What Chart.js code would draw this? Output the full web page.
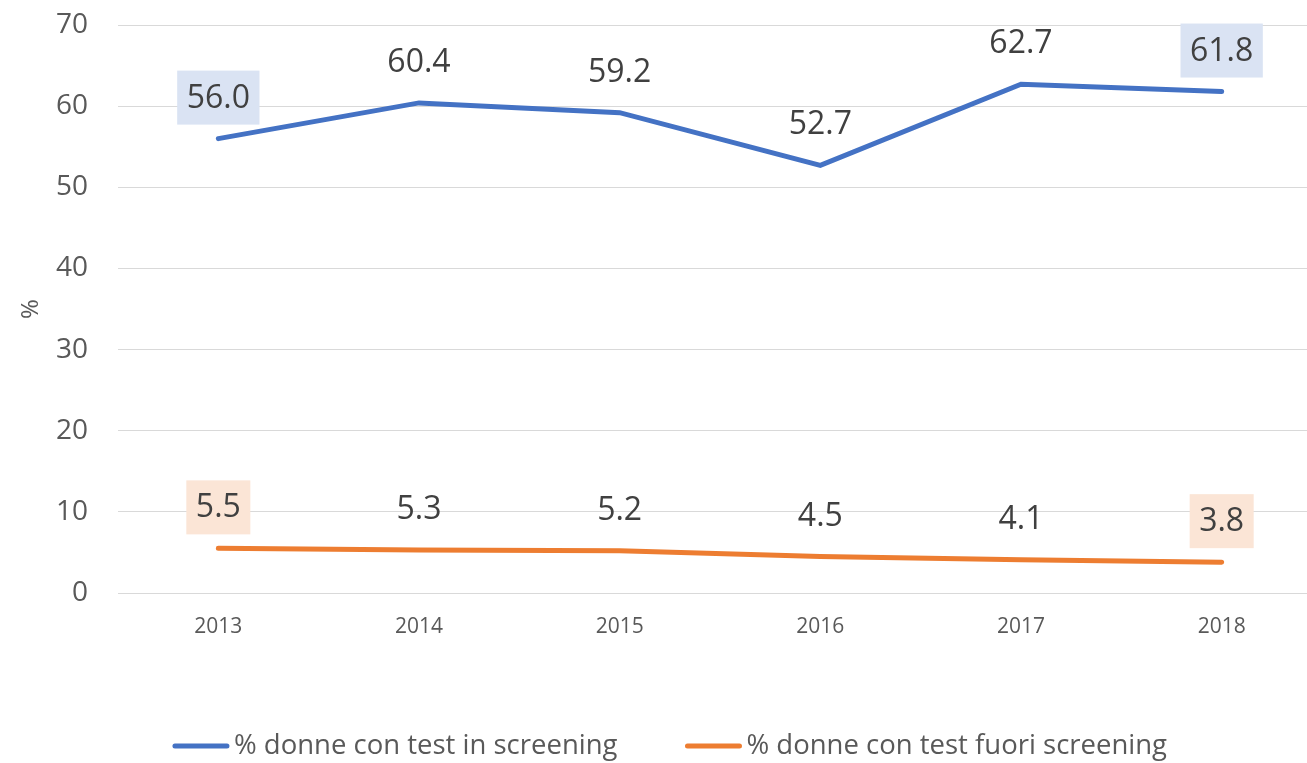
<!DOCTYPE html>
<html>
<head>
<meta charset="utf-8">
<script src="https://cdn.jsdelivr.net/npm/chart.js@4"></script>
<style>
  html, body { margin: 0; padding: 0; overflow: hidden; background: #fff; }
  #wrap { width: 1340px; height: 763px; }
</style>
</head>
<body>
<div id="wrap"><canvas id="myChart" width="1340" height="763"></canvas></div>
<script>
var years = ['2013', '2014', '2015', '2016', '2017', '2018'];
var inScreening = [56.0, 60.4, 59.2, 52.7, 62.7, 61.8];
var fuoriScreening = [5.5, 5.3, 5.2, 4.5, 4.1, 3.8];
var yTicks = [0, 10, 20, 30, 40, 50, 60, 70];

var textColor = '#595959';
var ctx = document.getElementById('myChart').getContext('2d');

// labels above each point, first and last one on a coloured box
var valueLabels = {
    id: 'valueLabels',
    afterDatasetsDraw: function(chart) {
        var c = chart.ctx;
        c.save();
        c.font = '32px "Open Sans"';
        c.textAlign = 'center';
        c.textBaseline = 'middle';
        chart.data.datasets.forEach(function(ds, i) {
            var meta = chart.getDatasetMeta(i);
            meta.data.forEach(function(pt, j) {
                var txt = ds.data[j].toFixed(1);
                var y = pt.y - 41;
                if (j === 0 || j === ds.data.length - 1) {
                    var w = c.measureText(txt).width + 19;
                    c.fillStyle = ds.boxColor;
                    c.fillRect(pt.x - w / 2, y - 27, w, 54);
                }
                c.fillStyle = '#404040';
                c.fillText(txt, pt.x, y + 1);
            });
        });
        c.restore();
    }
};

// legend at the bottom, line sample right next to the text
var bottomLegend = {
    id: 'bottomLegend',
    afterDraw: function(chart) {
        var c = chart.ctx;
        var lineW = 56, gap = 5, itemGap = 68, y = 746;
        c.save();
        c.font = '27.5px "Open Sans"';
        c.textBaseline = 'middle';
        var widths = chart.data.datasets.map(function(ds) {
            return lineW + gap + c.measureText(ds.label).width;
        });
        var total = widths.reduce(function(a, b) { return a + b; }, 0) + itemGap * (widths.length - 1);
        var x = 670 - total / 2;
        chart.data.datasets.forEach(function(ds, i) {
            c.strokeStyle = ds.borderColor;
            c.lineWidth = 5;
            c.lineCap = 'round';
            c.beginPath();
            c.moveTo(x + 2, y);
            c.lineTo(x + lineW - 2, y);
            c.stroke();
            c.fillStyle = textColor;
            c.fillText(ds.label, x + lineW + gap, y);
            x += widths[i] + itemGap;
        });
        c.restore();
    }
};

var chart = new Chart(ctx, {
    type: 'line',
    data: {
        labels: years,
        datasets: [{
            label: '% donne con test in screening',
            data: inScreening,
            borderColor: '#4472C4',
            backgroundColor: '#4472C4',
            boxColor: '#DAE3F3',
            borderWidth: 5,
            borderCapStyle: 'round',
            pointRadius: 0,
            tension: 0
        }, {
            label: '% donne con test fuori screening',
            data: fuoriScreening,
            borderColor: '#ED7D31',
            backgroundColor: '#ED7D31',
            boxColor: '#FBE5D6',
            borderWidth: 5,
            borderCapStyle: 'round',
            pointRadius: 0,
            tension: 0
        }]
    },
    plugins: [valueLabels, bottomLegend],
    options: {
        responsive: false,
        animation: false,
        layout: { padding: { top: 25, right: 18, bottom: 90, left: 0 } },
        plugins: {
            tooltip: { enabled: false },
            legend: { display: false }
        },
        scales: {
            x: {
                offset: true,
                grid: { display: false },
                border: { display: false },
                ticks: { color: textColor, font: { family: 'Open Sans', size: 21 }, padding: 13 },
                afterFit: function(s) { s.height = 80; }
            },
            y: {
                min: 0,
                max: 70,
                afterBuildTicks: function(s) { s.ticks = yTicks.map(function(v) { return { value: v }; }); },
                grid: { color: '#D9D9D9', lineWidth: 1, drawTicks: false },
                border: { display: false },
                ticks: { color: textColor, font: { family: 'Open Sans', size: 28 }, padding: 30 },
                title: { display: true, text: '%', color: textColor, font: { family: 'Open Sans', size: 24 }, padding: { top: 17, bottom: 0 } },
                afterFit: function(s) { s.width = 118; s.paddingTop = 0; s.paddingBottom = 0; }
            }
        }
    }
});
</script>
</body>
</html>
